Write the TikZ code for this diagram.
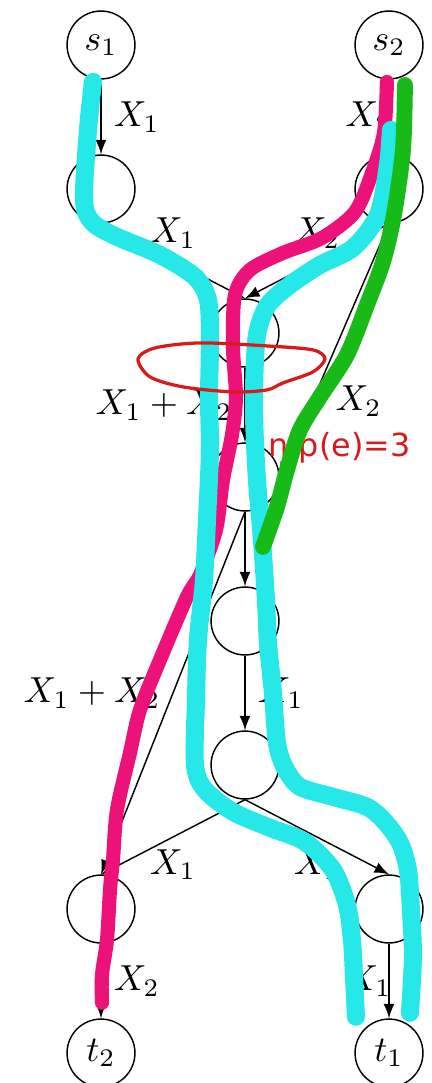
\documentclass[tikz,border=0pt]{standalone}
\usepackage{amsmath}
\usepackage{fontspec}
\newfontfamily\paintfont{DejaVu Sans}

\definecolor{flowcyan}{RGB}{38,232,232}
\definecolor{flowpink}{RGB}{236,18,122}
\definecolor{flowgreen}{RGB}{24,186,24}
\definecolor{cutred}{RGB}{216,26,26}

\begin{document}
\begin{tikzpicture}[x=1.4cm, y=1.4cm, >=latex,
    vertex/.style={circle, draw, minimum size=6.6mm, inner sep=0pt},
    hand/.style={line cap=round, line join=round}]
    \useasboundingbox (-0.7014,0.3125) rectangle (2.2986,-7.2083);

    % Sommets du reseau
    \node[vertex] (s1) at (0,0) {$s_1$};
    \node[vertex] (s2) at (2,0) {$s_2$};
    \node[vertex] (A) at (0,-1) {};
    \node[vertex] (B) at (2,-1) {};
    \node[vertex] (C) at (1,-2) {};
    \node[vertex] (D) at (1,-3) {};
    \node[vertex] (E) at (1,-4) {};
    \node[vertex] (F) at (1,-5) {};
    \node[vertex] (G) at (0,-6) {};
    \node[vertex] (H) at (2,-6) {};
    \node[vertex] (t2) at (0,-7) {$t_2$};
    \node[vertex] (t1) at (2,-7) {$t_1$};

    % Aretes et messages
    \draw[->] (s1) -- node[right] {$X_1$} (A);
    \draw[->] (s2) -- node[left=-1.5mm] {$X_2$} (B);
    \draw[->] (A.south) -- node[above] {$X_1$} (C.north);
    \draw[->] (B.south) -- node[above] {$X_2$} (C.north);
    \draw[->] (C) -- node[left] {$X_1 + X_2$} (D);
    \draw[->] (B.south) -- node[pos=0.7, right=1mm] {$X_2$} (D.east);
    \draw[->] (D) -- (E);
    \draw[->] (D.south) -- node[left] {$X_1 + X_2$} (G.north);
    \draw[->] (E) -- node[right] {$X_1$} (F);
    \draw[->] (F.south) -- node[below] {$X_1$} (G.north);
    \draw[->] (F.south) -- node[below] {$X_1$} (H.north);
    \draw[->] (G) -- node[right] {$X_2$} (t2);
    \draw[->] (H) -- node[left=-1.5mm] {$X_1$} (t1);

    % Chemins traces a main (coordonnees en pixels)
    \begin{scope}[x=0.00972cm, y=-0.00972cm, shift={(-101,-45)}]
        % chemin s2 -> t2
        \draw[hand, flowpink, line width=3.9pt] plot[smooth] coordinates {
            (387,82) (384,133) (372,173) (355,212) (322,238) (283,253)
            (250,270) (235,295) (233,347) (236,397) (232,435) (223,480)
            (216,530) (200,575) (187,597) (160,660) (140,710) (130,753)
            (117,810) (113,860) (110,890) (107,940) (102,975) (102,1003)};
        % chemin s1 -> t1
        \draw[hand, flowcyan, line width=5pt] plot[smooth] coordinates {
            (93,82) (88,130) (84,200) (92,222) (115,236) (160,255)
            (195,277) (208,300) (210,340) (209,400) (210,450) (207,520)
            (204,580) (198,640) (196,700) (195,765) (205,790) (233,812)
            (270,828) (305,842) (333,870) (347,905) (352,940) (354,975)
            (356,1017)};
        % chemin s2 -> t1
        \draw[hand, flowcyan, line width=5pt] plot[smooth] coordinates {
            (391,130) (388,165) (378,215) (353,248) (320,265) (290,285)
            (268,305) (258,330) (255,360) (254,413) (257,480) (262,540)
            (266,600) (268,643) (273,693) (277,743) (285,768) (300,787)
            (333,797) (367,807) (385,822) (400,843) (408,870) (411,910)
            (413,957) (410,1013)};
        \node[anchor=base west, inner sep=0pt, text=cutred,
              font=\paintfont\fontsize{8.8pt}{10pt}\selectfont] (np) at (268,457) {n p(e)=3};
        % chemin vert
        \draw[hand, flowgreen, line width=4.4pt] plot[smooth] coordinates {
            (405,85) (403,150) (394,215) (383,262) (367,305) (347,355)
            (320,397) (300,430) (287,470) (277,507) (263,547)};
        % coupe e
        \draw[cutred, line width=0.9pt] plot[smooth cycle] coordinates {
            (138,359) (155,348) (200,343) (267,346) (313,350) (325,359)
            (313,372) (283,383) (267,390) (233,392) (183,387) (150,377)};
    \end{scope}
\end{tikzpicture}
\end{document}
